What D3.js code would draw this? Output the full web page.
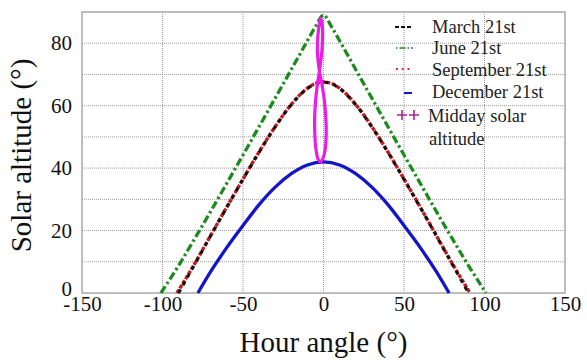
<!DOCTYPE html>
<html>
<head>
<meta charset="utf-8">
<script src="https://cdn.jsdelivr.net/npm/d3@7"></script>
<style>
  html, body { margin: 0; padding: 0; background: #fff; }
  svg { display: block; font-family: "Liberation Serif", "Times New Roman", serif; }
</style>
</head>
<body>
<div id="chart"></div>
<script>
// values
const marchHour = [-90, -80, -70, -60, -50, -40, -30, -20, -15, -10, -5, 0, 5, 10, 15, 20, 30, 40, 50, 60, 70, 80, 90];
const marchAlt = [0, 9.2, 18.4, 27.5, 36.4, 45.1, 53.2, 60.3, 63.2, 65.5, 67.0, 67.5, 67.0, 65.5, 63.2, 60.3, 53.2, 45.1, 36.4, 27.5, 18.4, 9.2, 0];
const septemberHour = [-91, -80, -70, -60, -50, -40, -30, -20, -15, -10, -5, 0, 5, 10, 15, 20, 30, 40, 50, 60, 70, 80, 91];
const septemberAlt = [0, 9.4, 18.5, 27.6, 36.5, 45.2, 53.3, 60.4, 63.3, 65.6, 67.1, 67.6, 67.1, 65.6, 63.3, 60.4, 53.3, 45.2, 36.5, 27.6, 18.5, 9.4, 0];
const juneHour = [-101, -90, -80, -70, -60, -50, -40, -30, -20, -15, -10, -5, 0, 5, 10, 15, 20, 30, 40, 50, 60, 70, 80, 90, 101];
const juneAlt = [0, 8.8, 17.4, 26.2, 35.2, 44.2, 53.3, 62.4, 71.6, 76.2, 80.8, 85.3, 89.0, 85.3, 80.8, 76.2, 71.6, 62.4, 53.3, 44.2, 35.2, 26.2, 17.4, 8.8, 0];
const decemberHour = [-78, -70, -60, -50, -40, -30, -20, -10, 0, 10, 20, 30, 40, 50, 60, 70, 78];
const decemberAlt = [0, 6.9, 14.6, 21.6, 28.3, 33.9, 38.2, 41.0, 42.0, 41.0, 38.2, 33.9, 28.3, 21.6, 14.6, 6.9, 0];
// midday solar altitude loop (hour angle, altitude)
const middayHour = [-1.8, -2.8, -3.6, -3.8, -3.3, -2.5, -1.2, 0.2, 1.2, 1.7, 1.5, 0.7, -0.8, -2.2, -3.5, -4.8, -5.4, -5.5, -5.0, -4.0, -3.0, -2.0, -1.1, -0.6, -0.6, -1.1];
const middayAlt = [88.0, 85.5, 81.5, 77.5, 74.0, 71.0, 67.5, 63.0, 58.0, 53.0, 48.5, 45.0, 42.6, 42.0, 43.0, 46.5, 51.0, 56.0, 61.0, 66.0, 69.5, 73.0, 77.0, 81.0, 84.5, 87.0];

const xTicks = [-150, -100, -50, 0, 50, 100, 150];
const yTicks = [0, 20, 40, 60, 80];
const yGrid = [10, 20, 30, 40, 50, 60, 70, 80];
const legendLabels = ["March 21st", "June 21st", "September 21st", "December 21st", "Midday solar"];

const width = 587, height = 361;
const margin = { top: 12, right: 22, bottom: 68, left: 82 };

const svg = d3.select("#chart").append("svg")
  .attr("width", width)
  .attr("height", height);

const x = d3.scaleLinear().domain([-150, 150]).range([margin.left, width - margin.right]);
const y = d3.scaleLinear().domain([0, 90]).range([height - margin.bottom, margin.top]);

// grid
svg.append("g").selectAll("line")
  .data(yGrid).enter().append("line")
  .attr("x1", x(-150)).attr("x2", x(150))
  .attr("y1", d => y(d)).attr("y2", d => y(d))
  .attr("stroke", "#9a9a9a").attr("stroke-width", 1).attr("stroke-dasharray", "1,1");
svg.append("g").selectAll("line")
  .data(xTicks.slice(1, -1)).enter().append("line")
  .attr("x1", d => x(d)).attr("x2", d => x(d))
  .attr("y1", y(0)).attr("y2", y(90))
  .attr("stroke", "#9a9a9a").attr("stroke-width", 1).attr("stroke-dasharray", "1,1");

// frame
svg.append("rect")
  .attr("x", x(-150)).attr("y", y(90))
  .attr("width", x(150) - x(-150)).attr("height", y(0) - y(90))
  .attr("fill", "none").attr("stroke", "#a8a8a8").attr("stroke-width", 1.5);

// axes (plain hyphen minus like the original)
const xAxis = svg.append("g")
  .attr("transform", `translate(0,${y(0)})`)
  .call(d3.axisBottom(x).tickValues(xTicks).tickSize(0).tickPadding(2).tickFormat(d => String(d)));
xAxis.select(".domain").remove();
xAxis.selectAll("text").attr("font-size", 21).attr("fill", "#111").attr("dy", "0.78em")
  .attr("font-family", "Liberation Serif");

const yAxis = svg.append("g")
  .attr("transform", `translate(${x(-150)},0)`)
  .call(d3.axisLeft(y).tickValues(yTicks).tickSize(0).tickPadding(10).tickFormat(d => String(d)));
yAxis.select(".domain").remove();
yAxis.selectAll("text").attr("font-size", 21).attr("fill", "#111")
  .attr("font-family", "Liberation Serif")
  .attr("dy", d => d === 0 ? "0.1em" : "0.32em");

// axis titles
svg.append("text")
  .attr("x", x(0)).attr("y", 352)
  .attr("text-anchor", "middle")
  .attr("font-size", 29).attr("fill", "#111")
  .text("Hour angle (°)");
svg.append("text")
  .attr("transform", `translate(31,${(y(0) + y(90)) / 2 + 3}) rotate(-90)`)
  .attr("text-anchor", "middle")
  .attr("font-size", 29).attr("fill", "#111")
  .text("Solar altitude (°)");

// curves
function pairs(hs, as) { return hs.map((h, i) => [h, as[i]]); }
const line = d3.line().x(d => x(d[0])).y(d => y(d[1])).curve(d3.curveMonotoneX);

svg.append("path").datum(pairs(juneHour, juneAlt))
  .attr("d", line).attr("fill", "none")
  .attr("stroke", "#1d8a1d").attr("stroke-width", 3.3).attr("stroke-dasharray", "8,3,2.5,3");
svg.append("path").datum(pairs(septemberHour, septemberAlt))
  .attr("d", line).attr("fill", "none")
  .attr("stroke", "#c41c1c").attr("stroke-width", 3.4).attr("stroke-dasharray", "4,1.5");
svg.append("path").datum(pairs(marchHour, marchAlt))
  .attr("d", line).attr("fill", "none")
  .attr("stroke", "#111").attr("stroke-width", 3).attr("stroke-dasharray", "4,5");
svg.append("path").datum(pairs(decemberHour, decemberAlt))
  .attr("d", line).attr("fill", "none")
  .attr("stroke", "#1414c8").attr("stroke-width", 3.3);

const loop = d3.line().x(d => x(d[0])).y(d => y(d[1])).curve(d3.curveCatmullRomClosed);
svg.append("path").datum(pairs(middayHour, middayAlt))
  .attr("d", loop).attr("fill", "none")
  .attr("stroke", "#e81ee8").attr("stroke-width", 3.2);

// legend
const lg = svg.append("g");
const baselines = [33, 54, 76, 98, 122];
lg.selectAll("text.lbl")
  .data(legendLabels).enter().append("text")
  .attr("class", "lbl")
  .attr("x", (d, i) => i === 4 ? 428 : 432)
  .attr("y", (d, i) => baselines[i])
  .attr("font-size", 18.5).attr("fill", "#222")
  .text(d => d);
lg.append("text").attr("x", 429).attr("y", 145)
  .attr("font-size", 18.5).attr("fill", "#222").text("altitude");

lg.append("line").attr("x1", 395).attr("x2", 413).attr("y1", 27).attr("y2", 27)
  .attr("stroke", "#111").attr("stroke-width", 2).attr("stroke-dasharray", "4,2");
lg.append("line").attr("x1", 396).attr("x2", 413).attr("y1", 48).attr("y2", 48)
  .attr("stroke", "#1d8a1d").attr("stroke-width", 1.6).attr("stroke-dasharray", "1.5,2,6,2");
lg.append("line").attr("x1", 396).attr("x2", 413).attr("y1", 69).attr("y2", 69)
  .attr("stroke", "#cc2020").attr("stroke-width", 1.8).attr("stroke-dasharray", "1.8,4");
lg.append("line").attr("x1", 404).attr("x2", 412).attr("y1", 93).attr("y2", 93)
  .attr("stroke", "#1414c8").attr("stroke-width", 2);
lg.selectAll("path.plus")
  .data([402, 414]).enter().append("path")
  .attr("class", "plus")
  .attr("d", d => `M${d - 5},115H${d + 5}M${d},110V120`)
  .attr("stroke", "#b0209a").attr("stroke-width", 1.6).attr("fill", "none");
</script>
</body>
</html>
